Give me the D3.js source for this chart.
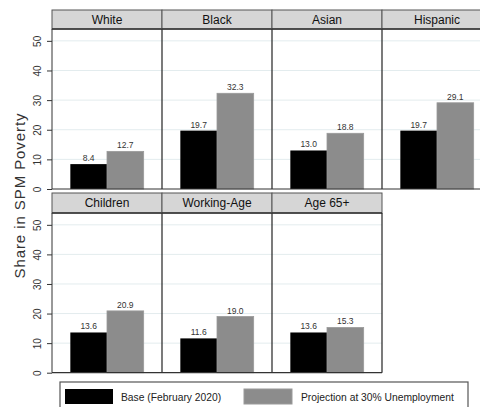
<!DOCTYPE html>
<html>
<head>
<meta charset="utf-8">
<script src="https://cdn.jsdelivr.net/npm/d3@7"></script>
<style>
  body { margin: 0; background: #fff; }
  svg { display: block; font-family: "Liberation Sans", Arial, sans-serif; }
  .axis path, .axis line { stroke: #333; }
  .axis text { fill: #333; font-size: 10px; }
</style>
</head>
<body>
<div id="chart"></div>
<script>
// Share in SPM poverty, base vs. projection at 30% unemployment
const groups     = ["White", "Black", "Asian", "Hispanic", "Children", "Working-Age", "Age 65+"];
const base       = [8.4, 19.7, 13.0, 19.7, 13.6, 11.6, 13.6];
const projection = [12.7, 32.3, 18.8, 29.1, 20.9, 19.0, 15.3];
const yTicks     = [0, 10, 20, 30, 40, 50];
const seriesKeys = ["base", "proj"];
const seriesNames = ["Base (February 2020)", "Projection at 30% Unemployment"];

(function () {
  const W = 480, H = 407;
  const LEFT = 52, PW = 110, PER_ROW = 4;
  const ROWS = [
    { stripTop: 10, top: 29, bottom: 189 },
    { stripTop: 193, top: 213, bottom: 372.7 }
  ];
  const COLORS = { base: "#000000", proj: "#8c8c8c" };

  const svg = d3.select("#chart").append("svg")
    .attr("width", W).attr("height", H).attr("viewBox", `0 0 ${W} ${H}`);

  const x = d3.scaleBand().domain(seriesKeys).range([0, PW]).paddingInner(0).paddingOuter(0.5);

  const data = groups.map((g, i) => ({ group: g, base: base[i], proj: projection[i] }));

  ROWS.forEach((row, r) => {
    const rowData = data.slice(r * PER_ROW, r * PER_ROW + PER_ROW);
    const y = d3.scaleLinear().domain([0, 54]).range([row.bottom, row.top]);
    const rowW = rowData.length * PW;

    // grid
    svg.append("g").selectAll("line").data(yTicks.filter(d => d > 0)).join("line")
      .attr("x1", LEFT).attr("x2", LEFT + rowW)
      .attr("y1", d => y(d)).attr("y2", d => y(d))
      .attr("stroke", "#e3ecee").attr("stroke-width", 1);

    rowData.forEach((d, i) => {
      const g = svg.append("g").attr("transform", `translate(${LEFT + i * PW},0)`);

      // strip header
      g.append("rect").attr("x", 0).attr("y", row.stripTop)
        .attr("width", PW).attr("height", row.top - row.stripTop)
        .attr("fill", "#d6d6d6").attr("stroke", "#555").attr("stroke-width", 1);
      g.append("line").attr("x1", 0).attr("x2", PW).attr("y1", row.top).attr("y2", row.top)
        .attr("stroke", "#333").attr("stroke-width", 1.5);
      g.append("text").attr("x", PW / 2).attr("y", row.stripTop + 14)
        .attr("text-anchor", "middle").attr("font-size", "12px").attr("fill", "#111")
        .text(d.group);

      // bars
      seriesKeys.forEach(k => {
        g.append("rect")
          .attr("x", x(k)).attr("width", x.bandwidth())
          .attr("y", y(d[k])).attr("height", row.bottom - y(d[k]))
          .attr("fill", COLORS[k])
          .attr("stroke", k === "proj" ? "#9a9a9a" : "none").attr("stroke-width", 0.8);
        g.append("text")
          .attr("x", x(k) + x.bandwidth() / 2).attr("y", y(d[k]) - 3)
          .attr("text-anchor", "middle").attr("font-size", "8.5px").attr("fill", "#333")
          .text(d[k].toFixed(1));
      });

      // panel divider
      g.append("line").attr("x1", PW).attr("x2", PW).attr("y1", row.top).attr("y2", row.bottom)
        .attr("stroke", "#222").attr("stroke-width", 1.2);
    });

    // bottom line of row
    svg.append("line").attr("x1", LEFT).attr("x2", LEFT + rowW)
      .attr("y1", row.bottom).attr("y2", row.bottom)
      .attr("stroke", "#333").attr("stroke-width", 1.2);

    // y axis
    const ax = svg.append("g").attr("class", "axis")
      .attr("transform", `translate(${LEFT},0)`)
      .call(d3.axisLeft(y).tickValues(yTicks).tickSize(5).tickPadding(8).tickSizeOuter(0));
    ax.select(".domain").attr("d", `M0,${row.top}V${row.bottom}`);
    ax.selectAll(".tick text")
      .attr("transform", "rotate(-90)")
      .attr("x", 0).attr("y", -11).attr("dy", "0")
      .attr("text-anchor", "middle");
  });

  // y title
  svg.append("text")
    .attr("transform", `translate(25,196) rotate(-90)`)
    .attr("text-anchor", "middle").attr("font-size", "15px").attr("fill", "#333")
    .attr("textLength", 165).attr("lengthAdjust", "spacing")
    .text("Share in SPM Poverty");

  // legend
  const lg = svg.append("g");
  lg.append("rect").attr("x", 60).attr("y", 382).attr("width", 408).attr("height", 40)
    .attr("fill", "#fff").attr("stroke", "#555").attr("stroke-width", 1.2);
  const items = [
    { key: "base", sx: 65, tx: 121 },
    { key: "proj", sx: 244, tx: 301 }
  ];
  items.forEach((it, i) => {
    lg.append("rect").attr("x", it.sx).attr("y", 389).attr("width", 48).attr("height", 15)
      .attr("fill", COLORS[it.key]).attr("stroke", it.key === "proj" ? "#9a9a9a" : "none");
    lg.append("text").attr("x", it.tx).attr("y", 401)
      .attr("font-size", "10.3px").attr("fill", "#222").text(seriesNames[i]);
  });
})();
</script>
</body>
</html>
